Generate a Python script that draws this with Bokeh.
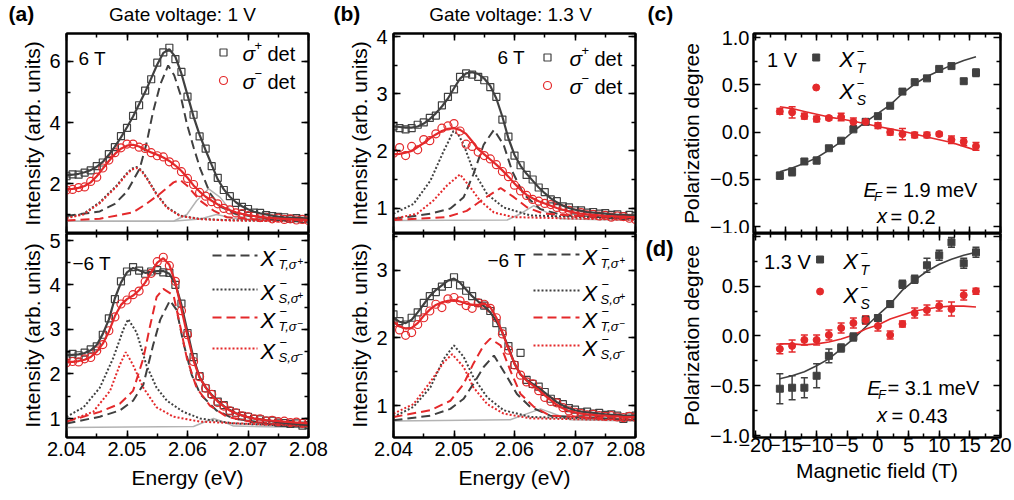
from bokeh.plotting import figure
from bokeh.models import (Range1d, LinearAxis, SingleIntervalTicker, FixedTicker, Label,
                          ColumnDataSource, Whisker, TeeHead, CustomJSTickFormatter)
from bokeh.layouts import row, column
from bokeh.embed import file_html
from bokeh.resources import INLINE

FONT = "Liberation Sans"
DARK = "#404040"
RED = "#e4292b"
GRAY = "#b3b3b3"

# ---------------- energies of the spectra markers / fits ----------------
E41 = [2.040, 2.041, 2.042, 2.043, 2.044, 2.045, 2.046, 2.047, 2.048, 2.049,
       2.050, 2.051, 2.052, 2.053, 2.054, 2.055, 2.056, 2.057, 2.058, 2.059,
       2.060, 2.061, 2.062, 2.063, 2.064, 2.065, 2.066, 2.067, 2.068, 2.069,
       2.070, 2.071, 2.072, 2.073, 2.074, 2.075, 2.076, 2.077, 2.078, 2.079, 2.080]

# ---------------- (a) 1 V, +6 T ----------------
aT_sp = [2.25, 2.31, 2.30, 2.37, 2.44, 2.58, 2.70, 2.97, 3.20, 3.56, 3.83, 4.22, 4.57, 5.05, 5.42, 5.96, 6.30, 6.45, 6.08, 5.66,
         4.85, 4.26, 3.55, 3.15, 2.58, 2.20, 1.80, 1.60, 1.38, 1.25, 1.18, 1.06, 1.05, 0.98, 0.95, 0.92, 0.91, 0.86, 0.88, 0.85, 0.87]
aT_sm = [1.80, 1.82, 1.88, 1.90, 2.08, 2.22, 2.52, 2.78, 3.02, 3.18, 3.30, 3.30, 3.20, 3.16, 3.02, 2.92, 2.88, 2.72, 2.62, 2.40,
         2.18, 1.98, 1.72, 1.60, 1.42, 1.35, 1.20, 1.15, 1.05, 1.03, 0.96, 0.95, 0.90, 0.91, 0.86, 0.88, 0.84, 0.86, 0.82, 0.84, 0.80]
aT_fp = [2.28, 2.30, 2.33, 2.38, 2.45, 2.56, 2.72, 2.95, 3.22, 3.52, 3.85, 4.20, 4.60, 5.00, 5.45, 5.90, 6.28, 6.40, 6.15, 5.60,
         4.90, 4.20, 3.60, 3.10, 2.62, 2.15, 1.82, 1.58, 1.40, 1.27, 1.17, 1.09, 1.04, 1.00, 0.96, 0.93, 0.91, 0.90, 0.89, 0.88, 0.87]
aT_fm = [1.83, 1.84, 1.87, 1.93, 2.05, 2.25, 2.50, 2.75, 2.98, 3.15, 3.25, 3.28, 3.22, 3.12, 3.03, 2.95, 2.86, 2.75, 2.60, 2.42,
         2.20, 1.95, 1.75, 1.58, 1.45, 1.33, 1.23, 1.14, 1.07, 1.02, 0.98, 0.95, 0.92, 0.90, 0.88, 0.87, 0.86, 0.85, 0.84, 0.83, 0.82]
aT_XTp_E = [2.040, 2.0455, 2.048, 2.050, 2.0521, 2.0532, 2.0543, 2.0555, 2.0568, 2.0578, 2.0588, 2.0599, 2.0610, 2.0621, 2.0637, 2.0654, 2.068, 2.072, 2.080]
aT_XTp = [0.95, 1.10, 1.35, 1.75, 2.50, 3.30, 4.35, 5.25, 5.87, 5.55, 4.94, 3.96, 3.20, 2.50, 1.70, 1.26, 1.02, 0.90, 0.83]
aT_XS_E = [2.040, 2.0428, 2.0455, 2.0483, 2.0499, 2.0508, 2.0516, 2.0524, 2.0532, 2.0549, 2.0566, 2.0588, 2.062, 2.066, 2.072, 2.080]
aT_XSp = [0.91, 1.02, 1.40, 1.95, 2.33, 2.50, 2.55, 2.45, 2.22, 1.67, 1.24, 0.96, 0.86, 0.82, 0.80, 0.79]
aT_XSm = [0.88, 1.00, 1.37, 1.92, 2.30, 2.47, 2.52, 2.42, 2.20, 1.65, 1.22, 0.95, 0.85, 0.81, 0.79, 0.78]
aT_XTm_E = [2.040, 2.0455, 2.0510, 2.0532, 2.0554, 2.0577, 2.0588, 2.0599, 2.0621, 2.0643, 2.0665, 2.072, 2.080]
aT_XTm = [0.80, 0.86, 1.07, 1.35, 1.67, 2.05, 2.13, 1.95, 1.45, 1.13, 0.91, 0.83, 0.80]
aT_G1_E = [2.040, 2.0577, 2.0599, 2.0615, 2.0635, 2.0654, 2.0676, 2.0698, 2.080]
aT_G1 = [0.78, 0.78, 1.00, 1.45, 1.84, 1.56, 1.02, 0.86, 0.78]
aT_G2_E = [2.040, 2.058, 2.0621, 2.0648, 2.0676, 2.071, 2.080]
aT_G2 = [0.78, 0.79, 0.85, 1.00, 0.88, 0.80, 0.78]

# ---------------- (a) 1 V, -6 T ----------------
aB_sp = [2.40, 2.45, 2.42, 2.48, 2.55, 2.62, 2.88, 3.25, 3.68, 4.08, 4.30, 4.40, 4.32, 4.25, 4.30, 4.33, 4.28, 4.27, 4.00, 3.58,
         2.92, 2.38, 1.95, 1.68, 1.55, 1.38, 1.30, 1.17, 1.13, 1.06, 1.04, 0.99, 0.98, 0.95, 0.95, 0.91, 0.90, 0.88, 0.89, 0.84, 0.85]
aB_sm = [2.25, 2.28, 2.27, 2.34, 2.37, 2.52, 2.66, 2.97, 3.28, 3.57, 3.66, 3.78, 3.86, 4.07, 4.26, 4.52, 4.62, 4.43, 4.08, 3.42,
         2.88, 2.28, 1.94, 1.68, 1.54, 1.36, 1.28, 1.17, 1.13, 1.06, 1.04, 0.99, 0.99, 0.95, 0.96, 0.93, 0.94, 0.91, 0.92, 0.89, 0.90]
aB_fp = [2.42, 2.43, 2.44, 2.47, 2.53, 2.65, 2.90, 3.22, 3.70, 4.05, 4.28, 4.38, 4.33, 4.27, 4.29, 4.31, 4.31, 4.25, 4.02, 3.55,
         2.95, 2.35, 1.93, 1.70, 1.53, 1.40, 1.28, 1.19, 1.12, 1.07, 1.03, 1.00, 0.98, 0.96, 0.94, 0.92, 0.90, 0.89, 0.88, 0.86, 0.85]
aB_fm = [2.27, 2.27, 2.29, 2.32, 2.38, 2.50, 2.68, 2.95, 3.30, 3.55, 3.68, 3.76, 3.88, 4.05, 4.28, 4.50, 4.60, 4.45, 4.05, 3.45,
         2.85, 2.30, 1.92, 1.70, 1.52, 1.38, 1.27, 1.18, 1.12, 1.07, 1.03, 1.00, 0.98, 0.96, 0.95, 0.94, 0.93, 0.92, 0.91, 0.90, 0.89]
aB_XSp_E = [2.040, 2.0428, 2.0455, 2.0477, 2.0494, 2.0502, 2.0516, 2.0532, 2.0549, 2.0566, 2.0593, 2.0621, 2.0676, 2.080]
aB_XSp = [1.04, 1.25, 1.69, 2.35, 3.00, 3.23, 2.93, 2.20, 1.69, 1.40, 1.15, 1.00, 0.89, 0.82]
aB_XSm_E = [2.040, 2.0444, 2.0472, 2.0488, 2.0498, 2.0510, 2.0527, 2.0549, 2.0577, 2.0621, 2.080]
aB_XSm = [0.93, 1.15, 1.62, 2.20, 2.49, 2.20, 1.69, 1.25, 1.04, 0.93, 0.82]
aB_XTp_E = [2.040, 2.0455, 2.0488, 2.0510, 2.0527, 2.0543, 2.0555, 2.0571, 2.0582, 2.0593, 2.0607, 2.0621, 2.0648, 2.0676, 2.0731, 2.080]
aB_XTp = [0.89, 1.04, 1.18, 1.40, 1.76, 2.64, 3.22, 3.65, 3.44, 2.71, 1.98, 1.55, 1.18, 1.00, 0.89, 0.83]
aB_XTm_E = [2.040, 2.0455, 2.0488, 2.0510, 2.0527, 2.0538, 2.0549, 2.0560, 2.0577, 2.0588, 2.0599, 2.0615, 2.0637, 2.0665, 2.0703, 2.080]
aB_XTm = [0.93, 1.15, 1.33, 1.62, 2.35, 3.07, 3.73, 3.91, 3.76, 3.07, 2.35, 1.69, 1.29, 1.04, 0.93, 0.83]
aB_G1_E = [2.040, 2.0610, 2.0626, 2.0643, 2.0659, 2.0676, 2.080]
aB_G1 = [0.80, 0.82, 0.91, 1.00, 0.93, 0.83, 0.80]

# ---------------- (b) 1.3 V, +6 T ----------------
bT_sp = [2.43, 2.40, 2.38, 2.40, 2.46, 2.50, 2.58, 2.62, 2.80, 2.95, 3.08, 3.30, 3.36, 3.34, 3.30, 3.24, 3.12, 2.95, 2.55, 2.25,
         1.92, 1.75, 1.58, 1.50, 1.36, 1.28, 1.15, 1.12, 1.03, 1.01, 0.96, 0.96, 0.92, 0.93, 0.90, 0.91, 0.88, 0.89, 0.86, 0.88, 0.86]
bT_sm = [1.96, 2.06, 1.92, 2.08, 2.02, 2.20, 2.18, 2.30, 2.40, 2.44, 2.48, 2.35, 2.12, 2.08, 1.98, 1.92, 1.86, 1.76, 1.64, 1.55,
         1.40, 1.30, 1.22, 1.15, 1.12, 1.08, 1.06, 1.01, 0.98, 0.96, 0.91, 0.92, 0.88, 0.89, 0.86, 0.87, 0.84, 0.86, 0.85, 0.82, 0.80]
bT_fp = [2.43, 2.42, 2.41, 2.41, 2.43, 2.48, 2.56, 2.66, 2.78, 2.92, 3.10, 3.27, 3.36, 3.38, 3.35, 3.27, 3.14, 2.92, 2.60, 2.22,
         1.93, 1.74, 1.60, 1.48, 1.36, 1.26, 1.17, 1.10, 1.04, 1.00, 0.97, 0.95, 0.93, 0.92, 0.91, 0.90, 0.89, 0.88, 0.88, 0.87, 0.87]
bT_fm = [1.94, 1.95, 1.97, 2.00, 2.07, 2.14, 2.22, 2.29, 2.35, 2.39, 2.40, 2.37, 2.30, 2.17, 2.03, 1.94, 1.85, 1.76, 1.66, 1.55,
         1.43, 1.32, 1.23, 1.17, 1.12, 1.08, 1.04, 1.00, 0.97, 0.94, 0.92, 0.90, 0.89, 0.88, 0.87, 0.86, 0.86, 0.85, 0.85, 0.84, 0.84]
bT_XSp_E = [2.040, 2.0433, 2.0461, 2.0483, 2.0491, 2.0499, 2.0507, 2.0516, 2.0532, 2.0555, 2.0582, 2.0626, 2.080]
bT_XSp = [0.90, 1.07, 1.48, 2.00, 2.17, 2.35, 2.29, 2.11, 1.65, 1.24, 1.01, 0.87, 0.81]
bT_XSm_E = [2.040, 2.0439, 2.0466, 2.0488, 2.0510, 2.0527, 2.0543, 2.0566, 2.0599, 2.080]
bT_XSm = [0.81, 0.90, 1.13, 1.39, 1.59, 1.36, 1.13, 0.92, 0.84, 0.79]
bT_XTp_E = [2.040, 2.0461, 2.0494, 2.0516, 2.0532, 2.0549, 2.0566, 2.0582, 2.0596, 2.0615, 2.0643, 2.0681, 2.080]
bT_XTp = [0.81, 0.90, 0.99, 1.19, 1.59, 2.11, 2.37, 2.11, 1.65, 1.24, 0.98, 0.87, 0.81]
bT_XTm_E = [2.040, 2.0488, 2.0521, 2.0549, 2.0577, 2.0599, 2.0621, 2.0648, 2.080]
bT_XTm = [0.79, 0.84, 0.95, 1.16, 1.35, 1.19, 1.01, 0.90, 0.81]
bT_G1_E = [2.040, 2.0588, 2.0610, 2.0632, 2.0654, 2.0676, 2.080]
bT_G1 = [0.78, 0.79, 0.90, 1.04, 0.92, 0.81, 0.78]

# ---------------- (b) 1.3 V, -6 T ----------------
bB_sp = [2.35, 2.25, 2.20, 2.30, 2.38, 2.52, 2.62, 2.68, 2.76, 2.80, 2.90, 2.78, 2.70, 2.62, 2.52, 2.48, 2.40, 2.22, 2.10, 1.88,
         1.60, 1.78, 1.38, 1.32, 1.28, 1.20, 1.10, 1.05, 1.02, 0.96, 0.94, 0.90, 0.91, 0.88, 0.89, 0.86, 0.87, 0.85, 0.80, 0.84, 0.85]
bB_sm = [2.22, 2.12, 2.04, 2.08, 2.20, 2.30, 2.40, 2.50, 2.45, 2.58, 2.60, 2.55, 2.48, 2.44, 2.52, 2.50, 2.44, 2.30, 2.06, 1.82,
         1.60, 1.45, 1.35, 1.32, 1.22, 1.12, 1.06, 1.04, 0.97, 0.92, 0.90, 0.88, 0.86, 0.87, 0.85, 0.84, 0.85, 0.83, 0.82, 0.84, 0.83]
bB_fp = [2.30, 2.24, 2.22, 2.27, 2.38, 2.50, 2.62, 2.71, 2.78, 2.85, 2.88, 2.82, 2.72, 2.62, 2.54, 2.47, 2.38, 2.25, 2.08, 1.86,
         1.62, 1.46, 1.38, 1.32, 1.26, 1.19, 1.12, 1.05, 1.00, 0.96, 0.93, 0.91, 0.90, 0.89, 0.88, 0.87, 0.86, 0.86, 0.85, 0.85, 0.85]
bB_fm = [2.24, 2.17, 2.14, 2.15, 2.22, 2.33, 2.42, 2.49, 2.53, 2.55, 2.56, 2.54, 2.51, 2.49, 2.49, 2.51, 2.46, 2.30, 2.08, 1.84,
         1.62, 1.46, 1.37, 1.30, 1.23, 1.15, 1.08, 1.01, 0.96, 0.92, 0.90, 0.88, 0.87, 0.86, 0.85, 0.85, 0.84, 0.84, 0.83, 0.83, 0.83]
bB_XSp_E = [2.040, 2.0433, 2.0461, 2.0483, 2.0500, 2.0516, 2.0532, 2.0555, 2.0582, 2.0626, 2.080]
bB_XSp = [0.83, 0.98, 1.27, 1.69, 1.89, 1.72, 1.42, 1.12, 0.93, 0.83, 0.79]
bB_XSm_E = [2.040, 2.0433, 2.0461, 2.0483, 2.0497, 2.0516, 2.0532, 2.0555, 2.0582, 2.0626, 2.080]
bB_XSm = [0.88, 1.02, 1.35, 1.64, 1.76, 1.57, 1.27, 1.02, 0.88, 0.81, 0.78]
bB_XTp_E = [2.040, 2.0461, 2.0494, 2.0516, 2.0532, 2.0549, 2.0566, 2.0588, 2.0604, 2.0626, 2.0659, 2.080]
bB_XTp = [0.78, 0.85, 0.95, 1.10, 1.32, 1.57, 1.74, 1.42, 1.17, 0.98, 0.85, 0.78]
bB_XTm_E = [2.040, 2.0461, 2.0494, 2.0516, 2.0532, 2.0549, 2.0560, 2.0577, 2.0593, 2.0610, 2.0632, 2.0659, 2.080]
bB_XTm = [0.83, 0.93, 1.07, 1.32, 1.62, 1.89, 1.99, 1.89, 1.52, 1.17, 0.98, 0.85, 0.79]
bB_G1_E = [2.040, 2.0593, 2.0621, 2.0643, 2.0665, 2.0692, 2.080]
bB_G1 = [0.77, 0.79, 0.88, 0.95, 0.88, 0.79, 0.77]

# ---------------- (c), (d) polarization degree ----------------
B = [-16, -14, -12, -10, -8, -6, -4, -2, 0, 2, 4, 6, 8, 10, 12, 14, 16]
c_XT = [-0.46, -0.42, -0.31, -0.30, -0.17, -0.09, 0.03, 0.11, 0.17, 0.28, 0.43, 0.53, 0.57, 0.67, 0.70, 0.54, 0.63]
c_XT_err = [0.035, 0.04, 0.025, 0.035, 0.02, 0.02, 0.02, 0.02, 0.02, 0.02, 0.025, 0.015, 0.015, 0.015, 0.02, 0.02, 0.04]
c_XS = [0.22, 0.21, 0.17, 0.14, 0.15, 0.16, 0.11, 0.11, 0.07, 0.00, -0.02, -0.03, -0.03, -0.02, -0.08, -0.10, -0.15]
c_XS_err = [0.03, 0.06, 0.03, 0.03, 0.02, 0.04, 0.04, 0.03, 0.03, 0.03, 0.06, 0.03, 0.03, 0.02, 0.04, 0.04, 0.04]
c_XT_fit = [-0.42, -0.38, -0.33, -0.27, -0.19, -0.10, 0.01, 0.11, 0.20, 0.29, 0.41, 0.51, 0.59, 0.65, 0.71, 0.76, 0.80]
c_XS_fit = [0.27, 0.25, 0.22, 0.19, 0.16, 0.14, 0.115, 0.09, 0.06, 0.035, 0.01, -0.02, -0.05, -0.08, -0.11, -0.15, -0.19]

d_XT = [-0.53, -0.52, -0.52, -0.40, -0.20, -0.12, -0.01, 0.16, 0.18, 0.32, 0.52, 0.57, 0.71, 0.81, 0.94, 0.73, 0.84]
d_XT_err = [0.15, 0.12, 0.10, 0.12, 0.07, 0.04, 0.04, 0.04, 0.03, 0.03, 0.04, 0.04, 0.07, 0.05, 0.05, 0.05, 0.05]
d_XS = [-0.13, -0.10, -0.04, -0.04, 0.01, 0.08, 0.13, 0.16, 0.10, 0.01, 0.12, 0.23, 0.26, 0.30, 0.27, 0.41, 0.45]
d_XS_err = [0.05, 0.06, 0.05, 0.05, 0.05, 0.05, 0.05, 0.04, 0.05, 0.04, 0.03, 0.05, 0.05, 0.05, 0.07, 0.05, 0.03]
d_XT_fit = [-0.43, -0.40, -0.36, -0.30, -0.23, -0.13, -0.03, 0.09, 0.21, 0.32, 0.46, 0.56, 0.65, 0.72, 0.77, 0.81, 0.84]
d_XS_fit = [-0.08, -0.08, -0.09, -0.08, -0.06, -0.03, 0.01, 0.07, 0.11, 0.17, 0.21, 0.25, 0.27, 0.29, 0.30, 0.30, 0.29]

E_TICK = 0.01
B_TICK = 5


# =====================================================================
def fmt(decimals, hide=None):
    cond = ""
    if hide is not None:
        cond = "if (Math.abs(tick - (%s)) < 1e-6) return '';" % hide
    return CustomJSTickFormatter(code=cond + "var v = Math.abs(tick) < 1e-9 ? 0 : tick;"
                                 "return v.toFixed(%d).replace('-', '\u2212');" % decimals)


def style_axis(ax, show, label=None, standoff=5, lstandoff=2):
    ax.axis_line_color = "black"
    ax.axis_line_width = 2
    ax.major_tick_in = 7
    ax.major_tick_out = 0
    ax.minor_tick_in = 4
    ax.minor_tick_out = 0
    ax.major_tick_line_color = "black"
    ax.minor_tick_line_color = "black"
    ax.major_tick_line_width = 1.5
    ax.minor_tick_line_width = 1.5
    if show:
        ax.major_label_text_font = FONT
        ax.major_label_text_font_size = "20px"
        ax.major_label_text_color = "black"
        ax.major_label_standoff = standoff
    else:
        ax.major_label_text_font_size = "0px"
        ax.major_label_standoff = 0
        ax.formatter = CustomJSTickFormatter(code="return '';")
    if label:
        ax.axis_label = label
        ax.axis_label_text_font = FONT
        ax.axis_label_text_font_size = "21px"
        ax.axis_label_text_font_style = "normal"
        ax.axis_label_text_color = "black"
        ax.axis_label_standoff = lstandoff


def label(p, x, y, s, size, style="normal", align="left", color="black"):
    p.add_layout(Label(x=x, y=y, text=s, text_font=FONT,
                       text_font_size="%dpx" % size, text_font_style=style, text_align=align,
                       text_baseline="middle", text_color=color))


class Panel:
    def __init__(self, w, h, xr, yr, bl, br, bt, bb, fx, fy):
        self.xr, self.yr = xr, yr
        self.fx, self.fy = fx, fy
        self.fw = w - bl - br
        self.fh = h - bt - bb
        p = figure(width=w, height=h, x_range=Range1d(*xr), y_range=Range1d(*yr),
                   output_backend="svg", toolbar_location=None,
                   x_axis_location=None, y_axis_location=None,
                   min_border_left=bl, min_border_right=br,
                   min_border_top=bt, min_border_bottom=bb)
        p.grid.visible = False
        p.outline_line_color = "black"
        p.outline_line_width = 2
        p.outline_line_alpha = 1
        p.background_fill_color = "white"
        p.border_fill_color = "white"
        self.p = p

    def dx(self, px):
        return self.xr[0] + (px - self.fx) / self.fw * (self.xr[1] - self.xr[0])

    def dy(self, py):
        return self.yr[1] - (py - self.fy) / self.fh * (self.yr[1] - self.yr[0])

    def txt(self, x, y, s, size, style="normal", align="left", color="black"):
        label(self.p, self.dx(x), self.dy(y), s, size, style, align, color)

    def axes(self, xtick, xminor, ydec, bottom_labels, xlabel, ylabel, yticker_args,
             xdec=2, yhide=None, ystand=5, ylstand=2, xstand=4, xlstand=7):
        p = self.p

        def ytk():
            kind, a, b = yticker_args
            if kind == "fixed":
                return FixedTicker(ticks=a, minor_ticks=b)
            return SingleIntervalTicker(interval=a, num_minor_ticks=b)

        def xtk():
            return SingleIntervalTicker(interval=xtick, num_minor_ticks=xminor)

        left = LinearAxis(ticker=ytk(), formatter=fmt(ydec, yhide))
        style_axis(left, True, ylabel, standoff=ystand, lstandoff=ylstand)
        p.add_layout(left, "left")
        right = LinearAxis(ticker=ytk())
        style_axis(right, False)
        p.add_layout(right, "right")
        below = LinearAxis(ticker=xtk(), formatter=fmt(xdec))
        style_axis(below, bottom_labels, xlabel if bottom_labels else None, standoff=xstand, lstandoff=xlstand)
        p.add_layout(below, "below")
        above = LinearAxis(ticker=xtk())
        style_axis(above, False)
        p.add_layout(above, "above")


def blank(w, h, x0, y0):
    p = figure(width=w, height=h, x_range=Range1d(x0, x0 + w), y_range=Range1d(y0 + h, y0),
               output_backend="svg", toolbar_location=None, x_axis_location=None, y_axis_location=None,
               min_border_left=0, min_border_right=0, min_border_top=0, min_border_bottom=0)
    p.grid.visible = False
    p.outline_line_color = None
    p.background_fill_color = "white"
    p.border_fill_color = "white"
    return p


def spectra(P, sp, sm, fp, fm, comps, grays):
    p = P.p
    for ge, gv in grays:
        p.line(ge, gv, line_color=GRAY, line_width=1.5)
    for ce, cv, col, dash in comps:
        p.line(ce, cv, line_color=col, line_width=2, line_dash=dash)
    p.scatter(E41, sp, marker="square", size=7, fill_color=None, line_color=DARK, line_width=1.2)
    p.scatter(E41, sm, marker="circle", size=8, fill_color=None, line_color=RED, line_width=1.2)
    p.line(E41, fp, line_color=DARK, line_width=2.2)
    p.line(E41, fm, line_color=RED, line_width=2.2)


def sigma_legend(P, xm, xs, y1, y2):
    p = P.p
    p.scatter([P.dx(xm)], [P.dy(y1)], marker="square", size=7, fill_color=None, line_color=DARK, line_width=1.2)
    p.scatter([P.dx(xm)], [P.dy(y2)], marker="circle", size=8, fill_color=None, line_color=RED, line_width=1.2)
    for y, sgn in ((y1, "+"), (y2, "\u2212")):
        P.txt(xs, y + 1, "\u03c3", 21, "italic")
        P.txt(xs + 12, y - 7, sgn, 13)
        P.txt(xs + 25, y + 1, "det", 20)


def comp_legend(P, x0, x1, ys):
    p = P.p
    specs = [(DARK, "9 5", "T", "+"), (DARK, "2 2", "S", "+"), (RED, "9 5", "T", "\u2212"), (RED, "2 2", "S", "\u2212")]
    for y, (col, dash, sub, sg) in zip(ys, specs):
        p.line([P.dx(x0), P.dx(x1)], [P.dy(y), P.dy(y)], line_color=col, line_width=2, line_dash=dash)
        cy = y + 3
        xt = x1 + 3
        P.txt(xt, cy, "X", 22, "italic")
        P.txt(xt + 19, cy - 9, "\u2212", 13)
        P.txt(xt + 18, cy + 6, sub + ",\u03c3", 13, "italic")
        P.txt(xt + 37, cy + 2, sg, 10)


def pol(P, xt, xt_err, xs, xs_err, ft, fs):
    p = P.p
    p.line(B, ft, line_color=DARK, line_width=1.6)
    p.line(B, fs, line_color=RED, line_width=1.6)
    for vals, errs, col, mk in ((xt, xt_err, DARK, "square"), (xs, xs_err, RED, "circle")):
        src = ColumnDataSource(dict(b=B, lo=[v - e for v, e in zip(vals, errs)], up=[v + e for v, e in zip(vals, errs)]))
        p.add_layout(Whisker(source=src, base="b", lower="lo", upper="up", line_color=col, line_width=1.5,
                             lower_head=TeeHead(size=7, line_color=col, line_width=1.5),
                             upper_head=TeeHead(size=7, line_color=col, line_width=1.5)))
        p.scatter(B, vals, marker=mk, size=7, fill_color=col, line_color=col)


def pol_legend(P, volt, xv, xm, xx, y1, y2):
    p = P.p
    P.txt(xv, y1 + 2, volt, 20)
    p.scatter([P.dx(xm)], [P.dy(y1)], marker="square", size=7, fill_color=DARK, line_color=DARK)
    p.scatter([P.dx(xm)], [P.dy(y2)], marker="circle", size=7, fill_color=RED, line_color=RED)
    for y, sub in ((y1 + 2, "T"), (y2 + 4, "S")):
        P.txt(xx, y, "X", 22, "italic")
        P.txt(xx + 18, y - 8, "\u2212", 13)
        P.txt(xx + 18, y + 8, sub, 14, "italic")


# ---------------- layout geometry (page pixels) ----------------
HEAD_H = 25
TOP_H, BOT_H = 208, 264
EXR = (2.04, 2.08)
TOTAL_W = 1012

# header with panel letters and titles
head = blank(TOTAL_W, HEAD_H, 0, 0)
label(head, 8, 13, "(a)", 21, "bold")
label(head, 182, 14, "Gate voltage: 1 V", 19, align="center")
label(head, 333, 13, "(b)", 21, "bold")
label(head, 510, 14, "Gate voltage: 1.3 V", 19, align="center")
label(head, 647, 13, "(c)", 21, "bold")

# (a)
aT = Panel(330, TOP_H, EXR, (0.379, 6.915), 66, 22, 8, 0, 66, 33)
aT.axes(E_TICK, 2, 0, False, None, "Intensity (arb. units)", ("int", 2, 2), ystand=6, ylstand=2)
spectra(aT, aT_sp, aT_sm, aT_fp, aT_fm,
        [(aT_XTp_E, aT_XTp, DARK, "9 5"), (aT_XS_E, aT_XSp, DARK, "2 2"),
         (aT_XTm_E, aT_XTm, RED, "9 5"), (aT_XS_E, aT_XSm, RED, "2 2")],
        [(aT_G1_E, aT_G1), (aT_G2_E, aT_G2)])
aT.txt(78, 58, "6 T", 19)
sigma_legend(aT, 223, 242, 52, 80)

aB = Panel(330, BOT_H, EXR, (0.574, 5.153), 66, 22, 0, 60, 66, 233)
aB.axes(E_TICK, 2, 0, True, "Energy (eV)", "Intensity (arb. units)", ("int", 1, 2), ystand=6, ylstand=2,
        xstand=4, xlstand=7)
spectra(aB, aB_sp, aB_sm, aB_fp, aB_fm,
        [(aB_XTp_E, aB_XTp, DARK, "9 5"), (aB_XSp_E, aB_XSp, DARK, "2 2"),
         (aB_XTm_E, aB_XTm, RED, "9 5"), (aB_XSm_E, aB_XSm, RED, "2 2")],
        [(aB_G1_E, aB_G1)])
aB.txt(72, 263, "\u22126 T", 19)
comp_legend(aB, 212, 257, [255, 289, 317, 348])

# (b)
bT = Panel(315, TOP_H, EXR, (0.553, 4.06), 63, 10, 8, 0, 393, 33)
bT.axes(E_TICK, 2, 0, False, None, "Intensity (arb. units)", ("int", 1, 2), ystand=6, ylstand=2)
spectra(bT, bT_sp, bT_sm, bT_fp, bT_fm,
        [(bT_XTp_E, bT_XTp, DARK, "9 5"), (bT_XSp_E, bT_XSp, DARK, "2 2"),
         (bT_XTm_E, bT_XTm, RED, "9 5"), (bT_XSm_E, bT_XSm, RED, "2 2")],
        [(bT_G1_E, bT_G1)])
bT.txt(497, 57, "6 T", 19)
sigma_legend(bT, 547, 569, 57, 85)

bB = Panel(315, BOT_H, EXR, (0.526, 3.548), 63, 10, 0, 60, 393, 233)
bB.axes(E_TICK, 2, 0, True, "Energy (eV)", "Intensity (arb. units)", ("int", 1, 2), ystand=6, ylstand=2,
        xstand=4, xlstand=7)
spectra(bB, bB_sp, bB_sm, bB_fp, bB_fm,
        [(bB_XTp_E, bB_XTp, DARK, "9 5"), (bB_XSp_E, bB_XSp, DARK, "2 2"),
         (bB_XTm_E, bB_XTm, RED, "9 5"), (bB_XSm_E, bB_XSm, RED, "2 2")],
        [(bB_G1_E, bB_G1)])
bB.txt(487, 260, "\u22126 T", 19)
comp_legend(bB, 533, 579, [254, 290, 317, 345])

# narrow strip carrying the (d) letter
strip = blank(32, TOP_H + BOT_H, 645, HEAD_H)
label(strip, 645, 248, "(d)", 22, "bold")

# (c), (d)
BXR = (-20.3, 20.0)
PY = ("fixed", [-1.0, -0.5, 0.0, 0.5, 1.0], [-0.75, -0.25, 0.25, 0.75])
cP = Panel(335, TOP_H, BXR, (-1.0725, 1.045), 67, 12, 8, 0, 744, 33)
cP.axes(B_TICK, 2, 1, False, None, "Polarization degree", PY, xdec=0, ystand=4, ylstand=4)
pol(cP, c_XT, c_XT_err, c_XS, c_XS_err, c_XT_fit, c_XS_fit)
pol_legend(cP, "1 V", 758, 809, 833, 57, 87)
cP.txt(858, 189, "E", 20, "italic")
cP.txt(869, 196, "F", 13, "italic")
cP.txt(881, 189, "= 1.9 meV", 20)
cP.txt(872, 215, "x", 20, "italic")
cP.txt(886, 216, "= 0.2", 20)

dP = Panel(335, BOT_H, BXR, (-1.02, 1.029), 67, 12, 0, 60, 744, 233)
dP.axes(B_TICK, 2, 1, True, "Magnetic field (T)", "Polarization degree", PY, xdec=0, yhide=1.0, ystand=4, ylstand=4,
        xstand=0, xlstand=4)
pol(dP, d_XT, d_XT_err, d_XS, d_XS_err, d_XT_fit, d_XS_fit)
pol_legend(dP, "1.3 V", 755, 813, 837, 259, 291)
dP.txt(862, 387, "E", 20, "italic")
dP.txt(873, 394, "F", 13, "italic")
dP.txt(883, 387, "= 3.1 meV", 20)
dP.txt(872, 414, "x", 20, "italic")
dP.txt(887, 415, "= 0.43", 20)

body = row(column(aT.p, aB.p), column(bT.p, bB.p), row(strip, column(cP.p, dP.p)))
layout = column(head, body)

with open("out.html", "w", encoding="utf-8") as f:
    f.write(file_html(layout, INLINE))
